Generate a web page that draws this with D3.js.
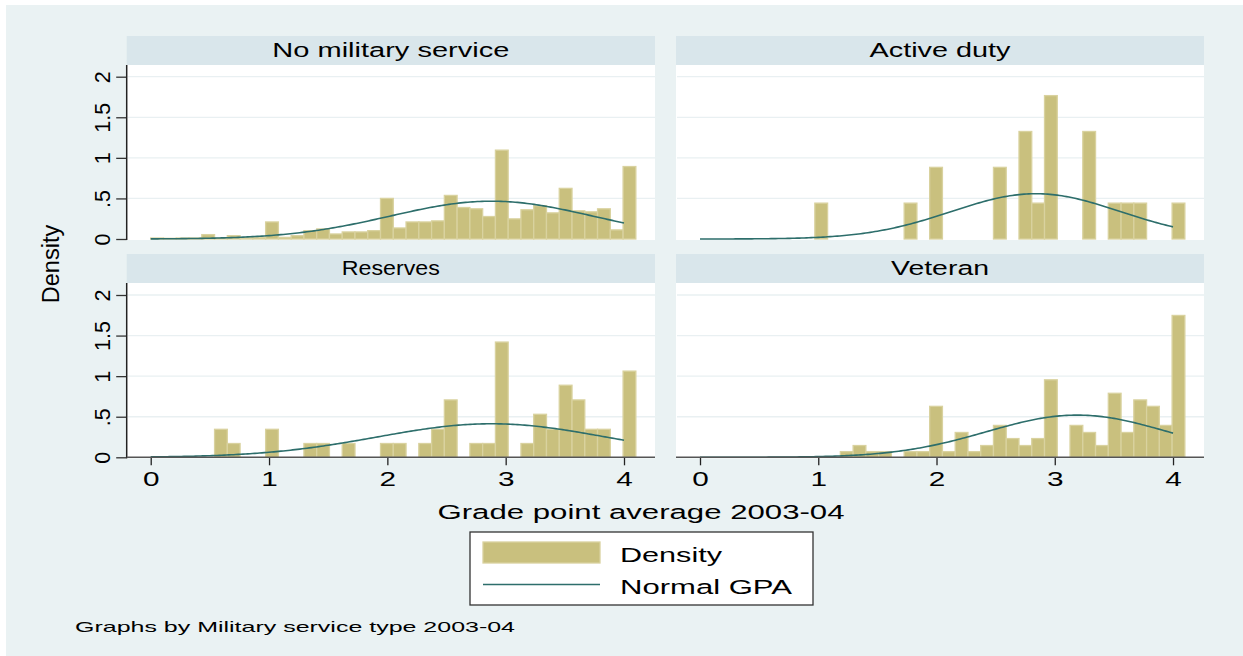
<!DOCTYPE html>
<html>
<head>
<meta charset="utf-8">
<script src="https://cdn.jsdelivr.net/npm/d3@7"></script>
<style>
  html, body { margin: 0; padding: 0; background: #ffffff; }
  svg text { font-family: "Liberation Sans", Arial, Helvetica, sans-serif; fill: #000; }
</style>
</head>
<body>
<svg id="chart" width="1243" height="656"></svg>
<script>
// Histogram bins: 38 equal-width bins starting at GPA 0
const binStart = 0;
const binWidth = 0.1079;

const panelTitles = ["No military service", "Active duty", "Reserves", "Veteran"];

// Density per bin for each military service type
const noService = [0.012, 0.008, 0.012, 0.012, 0.054, 0.008, 0.041, 0.016, 0.02, 0.21,
  0.02, 0.041, 0.103, 0.124, 0.062, 0.087, 0.087, 0.103, 0.5, 0.136,
  0.21, 0.21, 0.223, 0.537, 0.388, 0.372, 0.277, 1.095, 0.248, 0.36,
  0.41, 0.322, 0.624, 0.347, 0.335, 0.372, 0.112, 0.893];
const activeDuty = [0, 0, 0, 0, 0, 0, 0, 0, 0, 0.442,
  0, 0, 0, 0, 0, 0, 0.442, 0, 0.883, 0,
  0, 0, 0, 0.883, 0, 1.325, 0.442, 1.767, 0, 0,
  1.325, 0, 0.442, 0.442, 0.442, 0, 0, 0.442];
const reserves = [0, 0, 0, 0, 0, 0.345, 0.17, 0, 0, 0.345,
  0, 0, 0.17, 0.17, 0, 0.17, 0, 0, 0.17, 0.17,
  0, 0.17, 0.345, 0.707, 0, 0.17, 0.17, 1.42, 0, 0.17,
  0.53, 0.345, 0.888, 0.707, 0.345, 0.345, 0, 1.062];
const veteran = [0, 0, 0, 0, 0, 0, 0, 0, 0, 0,
  0, 0.07, 0.145, 0.07, 0.07, 0, 0.07, 0.07, 0.628, 0.07,
  0.306, 0.07, 0.145, 0.393, 0.231, 0.145, 0.231, 0.955, 0, 0.393,
  0.306, 0.145, 0.789, 0.306, 0.707, 0.628, 0.393, 1.748];

// Fitted normal distribution of GPA (mean, sd) per group
const normalMean = [2.88, 2.84, 2.88, 3.19];
const normalSd = [0.856, 0.715, 0.966, 0.767];

const xTicks = [0, 1, 2, 3, 4];
const yTicks = [0, 0.5, 1, 1.5, 2];
const yTickLabels = ["0", ".5", "1", "1.5", "2"];

const series = [noService, activeDuty, reserves, veteran];

const svg = d3.select("#chart");
const W = 1243, H = 656;

// Graph region background
svg.append("rect").attr("x", 6).attr("y", 5).attr("width", W - 6).attr("height", H - 5)
  .attr("fill", "#EAF2F3");

const cols = [[126.7, 655], [676, 1204]];
const rows = [
  { stripTop: 36, plotTop: 65, base: 239 },
  { stripTop: 254, plotTop: 283, base: 457.3 }
];
const unitPx = 81.15;

const barFill = "#C9C07E";
const barStroke = "#D9D29F";
const lineColor = "#2D6E6B";
const gridColor = "#E9F0F2";

function stretch(sel, sx) {
  sel.each(function () {
    const w = this.getComputedTextLength();
    d3.select(this).attr("textLength", w * sx).attr("lengthAdjust", "spacingAndGlyphs");
  });
}
function fitWidth(sel, w) {
  sel.attr("textLength", w).attr("lengthAdjust", "spacingAndGlyphs");
}

function normalPdf(x, m, s) {
  return Math.exp(-0.5 * ((x - m) / s) ** 2) / (s * Math.sqrt(2 * Math.PI));
}

const stripWidths = [237, 141, 98, 98];

series.forEach((vals, i) => {
  const c = i % 2, r = Math.floor(i / 2);
  const [x0, x1] = cols[c];
  const row = rows[r];
  const xs = d3.scaleLinear().domain([-0.203, 4.262]).range([x0, x1]);
  const ys = d3.scaleLinear().domain([0, 2]).range([row.base, row.base - 2 * unitPx]);
  const plotBottom = row.base + 1;

  const g = svg.append("g");

  // strip
  g.append("rect").attr("x", x0).attr("y", row.stripTop)
    .attr("width", x1 - x0).attr("height", row.plotTop - row.stripTop).attr("fill", "#D9E6EB");
  g.append("text").attr("x", (x0 + x1) / 2).attr("y", row.stripTop + 20.5)
    .attr("text-anchor", "middle").attr("font-size", 20.5).text(panelTitles[i])
    .call(fitWidth, stripWidths[i]);

  // plot region
  g.append("rect").attr("x", x0).attr("y", row.plotTop)
    .attr("width", x1 - x0).attr("height", plotBottom - row.plotTop).attr("fill", "#ffffff");

  // gridlines
  g.selectAll(".grid").data(yTicks.filter(d => d > 0)).join("line")
    .attr("x1", x0 + 1).attr("x2", x1).attr("y1", d => ys(d)).attr("y2", d => ys(d))
    .attr("stroke", gridColor).attr("stroke-width", 1.3);

  // bars
  const bars = vals.map((v, k) => ({ x: binStart + k * binWidth, v })).filter(d => d.v > 0);
  g.selectAll(".bar").data(bars).join("rect")
    .attr("x", d => xs(d.x)).attr("width", d => xs(d.x + binWidth) - xs(d.x))
    .attr("y", d => ys(d.v)).attr("height", d => ys(0) - ys(d.v))
    .attr("fill", barFill).attr("stroke", barStroke).attr("stroke-width", 1.3);

  // normal density curve
  const pts = d3.range(0, 4.0001, 0.02).map(x => [x, normalPdf(x, normalMean[i], normalSd[i])]);
  g.append("path").datum(pts)
    .attr("d", d3.line().x(d => xs(d[0])).y(d => ys(d[1])))
    .attr("fill", "none").attr("stroke", lineColor).attr("stroke-width", 1.6);

  // y axis on left column
  if (c === 0) {
    const ya = d3.axisLeft(ys).tickValues(yTicks).tickSize(10.5).tickPadding(0)
      .tickFormat((d, k) => yTickLabels[k]);
    const ag = g.append("g").attr("transform", `translate(${x0},0)`).call(ya);
    ag.select(".domain").remove();
    ag.selectAll(".tick line").attr("stroke", "#333").attr("stroke-width", 1.3);
    ag.append("line").attr("x1", 0).attr("x2", 0).attr("y1", row.plotTop).attr("y2", plotBottom)
      .attr("stroke", "#222").attr("stroke-width", 1.5);
    ag.selectAll(".tick text")
      .attr("font-size", 21.5).attr("fill", "#000")
      .attr("text-anchor", "middle")
      .attr("transform", "translate(-24,0) rotate(-90)")
      .attr("x", 0).attr("y", 0).attr("dy", "0.35em");
  }

  // x axis on bottom row
  if (r === 1) {
    const xa = d3.axisBottom(xs).tickValues(xTicks).tickSize(8).tickPadding(6).tickFormat(d3.format("d"));
    const ag = g.append("g").attr("transform", `translate(0,${row.base})`).call(xa);
    ag.select(".domain").remove();
    ag.append("line").attr("x1", x0).attr("x2", x1).attr("y1", 0).attr("y2", 0)
      .attr("stroke", "#555").attr("stroke-width", 1.5);
    ag.selectAll(".tick line").attr("stroke", "#222").attr("stroke-width", 1.3);
    ag.selectAll(".tick text").attr("font-size", 20.5).attr("fill", "#000").call(stretch, 1.45);
  }
});

// axis titles
svg.append("text").attr("transform", "translate(59,264) rotate(-90)")
  .attr("text-anchor", "middle").attr("font-size", 23.5).text("Density");
svg.append("text").attr("x", 641).attr("y", 518.5).attr("text-anchor", "middle")
  .attr("font-size", 20.5).text("Grade point average 2003-04").call(fitWidth, 407);

// legend
const lg = svg.append("g");
lg.append("rect").attr("x", 470).attr("y", 532).attr("width", 343).attr("height", 73)
  .attr("fill", "#ffffff").attr("stroke", "#333").attr("stroke-width", 1.3);
lg.append("rect").attr("x", 483).attr("y", 542).attr("width", 117).attr("height", 21)
  .attr("fill", barFill).attr("stroke", barStroke).attr("stroke-width", 1.3);
lg.append("line").attr("x1", 483).attr("x2", 600).attr("y1", 584.5).attr("y2", 584.5)
  .attr("stroke", lineColor).attr("stroke-width", 1.6);
lg.append("text").attr("x", 620).attr("y", 562).attr("font-size", 20.5).text("Density").call(fitWidth, 102);
lg.append("text").attr("x", 620).attr("y", 594).attr("font-size", 20.5).text("Normal GPA").call(fitWidth, 172);

// note
svg.append("text").attr("x", 75).attr("y", 632).attr("font-size", 15)
  .text("Graphs by Military service type 2003-04").call(fitWidth, 440);
</script>
</body>
</html>
